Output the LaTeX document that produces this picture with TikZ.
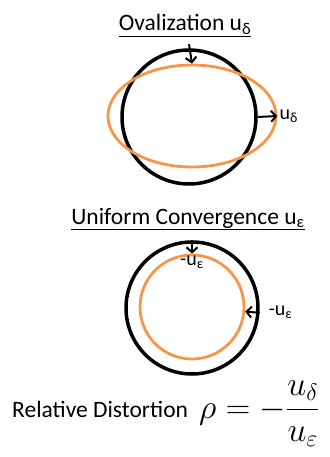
\documentclass[tikz,border=0pt]{standalone}
\usepackage{fix-cm}
\usepackage{fontspec}
\setmainfont{Carlito}
\usepackage{tikz}
\usetikzlibrary{arrows.meta,positioning,shapes.geometric}
\definecolor{ovalorange}{RGB}{247,150,70}

\begin{document}
\begin{tikzpicture}[
    x=1pt, y=-1pt,
    ring/.style={circle, draw=black, line width=3.5pt, minimum size=#1, inner sep=0pt},
    deformed/.style={draw=ovalorange, line width=2.8pt, inner sep=0pt},
    disp/.style={-{Straight Barb[length=5pt,width=11pt]}, line width=2pt},
    title/.style={font=\fontsize{23.5}{28}\selectfont, inner sep=0pt},
    lbl/.style={font=\fontsize{20}{24}\selectfont, inner sep=0pt}
]
\useasboundingbox (0,0) rectangle (329,457);

% ovalization
\node[title, anchor=base] (ovaltitle) at (185,31) {\underline{Ovalization u\textsubscript{δ}}};
\node[ring=134pt] (ring1) at (189,117) {};
\node[deformed, ellipse, minimum width=168pt, minimum height=102pt] (oval1) at (192,116) {};
\draw[disp] ([yshift=4pt]ring1.north) -- (oval1.north);
\draw[disp] (ring1.east) -- (oval1.east);
\node[lbl, right=2pt of oval1.east] (udelta) {u\textsubscript{δ}};

% uniform convergence
\node[title, anchor=base] (convtitle) at (188,224) {\underline{Uniform Convergence u\textsubscript{ε}}};
\node[ring=132pt] (ring2) at (192,308) {};
\node[deformed, circle, minimum size=104pt] (disc2) at (192,307) {};
\draw[disp] (ring2.north) -- (disc2.north);
\draw[disp] (ring2.-4) -- (disc2.-5);
\node[lbl, below=2pt of disc2.north] (ueps1) {-u\textsubscript{ε}};
\node[lbl, right=9pt of ring2.-4] (ueps2) {-u\textsubscript{ε}};

% ratio
\node[title, anchor=base west] (reldist) at (12,417) {Relative Distortion};
\node[anchor=base west, inner sep=0pt, font=\fontsize{34}{40}\selectfont] (rho) at (199,418)
    {$\displaystyle\rho=-\frac{u_\delta}{u_\varepsilon}$};
\end{tikzpicture}
\end{document}
